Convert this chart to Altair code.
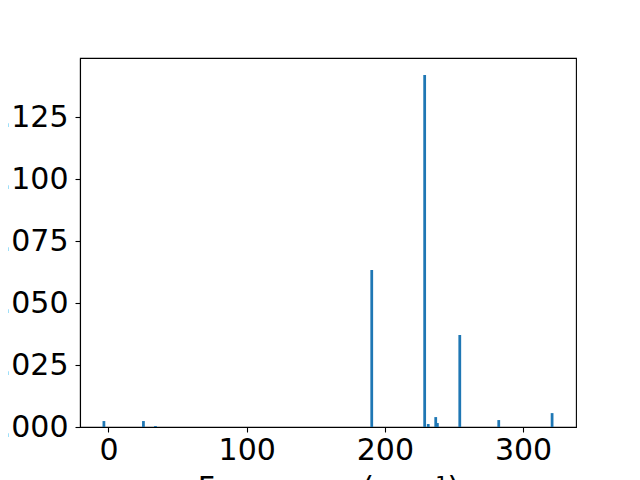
import altair as alt
import pandas as pd

freqs = [-3.3, 25.3, 34.0, 190.5, 228.8, 231.4, 236.8, 238.0, 254.2, 282.4, 321.0]
intensities = [0.0024, 0.0024, 0.0004, 0.0633, 0.1419, 0.0012, 0.0040, 0.0016, 0.0371, 0.0028, 0.0056]
bar_half_width = 1.0

df = pd.DataFrame({"freq": freqs, "intensity": intensities})

chart = alt.Chart(df).transform_calculate(
    x0=f"datum.freq - {bar_half_width}",
    x1=f"datum.freq + {bar_half_width}",
).mark_rect(color="#1f77b4").encode(
    x=alt.X("x0:Q", scale=alt.Scale(domain=[-20.6, 338.3], nice=False, zero=False),
            axis=alt.Axis(values=[0, 100, 200, 300], title="Frequency (cm⁻¹)", grid=False,
                          format="d", labelPadding=3, titlePadding=8)),
    x2="x1:Q",
    y=alt.Y("intensity:Q", scale=alt.Scale(domain=[0, 0.1488], nice=False),
            axis=alt.Axis(values=[0, 0.025, 0.05, 0.075, 0.1, 0.125], format=".3f",
                          title="Intensity", grid=False, labelPadding=7)),
).properties(
    width=496, height=369,
    autosize=alt.AutoSizeParams(type="none"),
    padding={"left": 72, "top": 50, "right": 56, "bottom": 70},
).configure_view(
    stroke="black", strokeWidth=1.1
).configure_axis(
    labelFont="DejaVu Sans", titleFont="DejaVu Sans",
    labelFontSize=30, titleFontSize=30, titleFontWeight="normal",
    labelColor="black", titleColor="black",
    domainColor="black", tickColor="black", domainWidth=1.1, tickWidth=1.1,
    tickSize=5,
).configure_axisX(labelFlush=False).configure_axisY(labelFlush=False)

chart.save("out.html", embed_options={"renderer": "svg", "actions": False})
